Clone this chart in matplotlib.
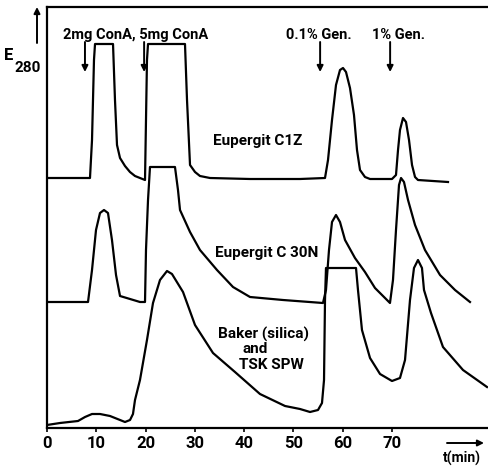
import matplotlib as mpl
mpl.use('agg')
import matplotlib.pyplot as plt

plt.rcParams['font.family'] = ['Roboto', 'DejaVu Sans']

# traces (time in min, E280 in arbitrary units)
c1z_t = [0, 8.72, 9.13, 9.53, 9.74, 13.39, 13.79, 14.20, 14.81, 15.82, 16.83,
         17.85, 18.86, 19.88, 20.08, 20.28, 20.49, 27.99, 28.40, 29.01, 30.02,
         31.03, 33.06, 41.18, 51.32, 56.39, 57.00, 57.81, 58.62, 59.43, 60.04,
         60.65, 61.46, 62.27, 62.88, 63.49, 64.50, 65.52, 69.98, 70.79, 71.20,
         71.60, 72.21, 72.82, 73.43, 74.04, 74.65, 75.25, 81.34]
c1z_e = [250, 250, 288, 368, 384, 384, 328, 283, 270, 262, 256,
         252, 250, 248, 308, 368, 384, 384, 328, 263, 256,
         252, 250, 249, 249, 250, 268, 308, 343, 358, 360,
         356, 340, 313, 278, 258, 251, 249, 249, 253, 278,
         298, 310, 306, 288, 263, 251, 248, 246]

c30n_t = [0, 8.32, 9.13, 9.94, 10.75, 11.56, 12.37, 13.18, 14.00, 14.81, 16.84,
          18.86, 19.88, 20.08, 20.49, 20.89, 25.96, 26.57, 26.98, 29.01, 31.03,
          34.48, 37.73, 41.18, 47.87, 55.98, 56.59, 57.20, 57.81, 58.62, 59.43,
          60.45, 62.47, 64.50, 66.53, 68.56, 69.57, 70.18, 70.79, 71.40, 71.81,
          72.41, 73.23, 74.65, 76.67, 79.72, 82.76, 85.80]
c30n_e = [126, 126, 158, 198, 215, 218, 215, 188, 153, 132, 129,
          126, 126, 178, 228, 261, 261, 238, 218, 196, 178,
          158, 141, 131, 128, 125, 138, 178, 206, 213, 206,
          188, 170, 156, 140, 130, 125, 148, 198, 243, 250,
          246, 228, 203, 178, 153, 138, 126]

baker_t = [0, 2.64, 6.29, 7.71, 9.13, 10.75, 12.78, 14.81, 15.82, 16.84, 17.44,
           17.85, 18.86, 20.28, 21.50, 22.92, 24.34, 25.35, 27.59, 30.02, 33.67,
           38.13, 43.20, 48.28, 51.32, 53.35, 54.97, 55.78, 56.19, 56.39, 56.59,
           62.68, 63.08, 63.89, 65.52, 67.55, 69.98, 71.60, 72.62, 73.63, 74.44,
           75.25, 76.06, 76.47, 77.89, 80.32, 84.38, 89.25]
baker_e = [3, 5, 7, 11, 14, 14, 12, 8, 6, 8, 14,
           28, 48, 88, 125, 148, 157, 154, 136, 103, 75,
           56, 34, 22, 19, 16, 18, 25, 48, 128, 160,
           160, 138, 98, 70, 54, 47, 50, 68, 128, 160,
           168, 160, 138, 115, 81, 58, 41]

# injections
inject_t = [7.7, 19.7, 55.4, 69.6]
inject_labels = ['2mg ConA, 5mg ConA', '0.1% Gen.', '1% Gen.']
label_x = [3.2, 48.5, 66.0]

trace_names = ['Eupergit C1Z', 'Eupergit C 30N']
trace_name_pos = [(33.6, 287), (34.0, 175)]
baker_lines = ['Baker (silica)', 'and', 'TSK SPW']
baker_pos = [(43.9, 94), (42.3, 79), (45.5, 63)]

xticks = [0, 10, 20, 30, 40, 50, 60, 70]

W, H = 489, 468
fig = plt.figure(figsize=(W / 100, H / 100), dpi=100)
ax = fig.add_axes([47 / W, 40 / H, 442 / W, 421 / H])

lw = 1.6
for t, e in [(c1z_t, c1z_e), (c30n_t, c30n_e), (baker_t, baker_e)]:
    ax.plot(t, e, color='black', lw=lw, solid_joinstyle='round')

ax.set_xlim(0, 442 / 4.93)
ax.set_ylim(0, 421)
ax.spines['right'].set_visible(False)
for s in ['left', 'bottom', 'top']:
    ax.spines[s].set_linewidth(1.6)
ax.set_yticks([])
ax.set_xticks(xticks)
ax.set_xticklabels([str(v) for v in xticks], fontweight='bold', fontsize=12)
ax.tick_params(axis='x', length=3, width=1.2, pad=3)

txt = dict(fontsize=11, fontweight='bold', color='black')
for name, (x, y) in zip(trace_names, trace_name_pos):
    ax.text(x, y, name, ha='left', va='center', **txt)
for name, (x, y) in zip(baker_lines, baker_pos):
    ax.text(x, y, name, ha='center', va='center', **txt)

for x, lab in zip(label_x, inject_labels):
    ax.text(x, 393, lab, ha='left', va='center', fontsize=10.5,
            fontweight='bold')
for t in inject_t:
    ax.annotate('', xy=(t, 356), xytext=(t, 386),
                arrowprops=dict(arrowstyle='-|>', color='black', lw=1.4,
                                mutation_scale=9, shrinkA=0, shrinkB=0))

# E280 label with upward arrow
fig.text(4 / W, 1 - 56 / H, 'E', fontsize=12, fontweight='bold', va='center')
fig.text(15 / W, 1 - 68 / H, '280', fontsize=11, fontweight='bold',
         va='center')
ax.annotate('', xy=(37 / W, 1 - 7 / H), xytext=(37 / W, 1 - 43 / H),
            xycoords='figure fraction', annotation_clip=False,
            arrowprops=dict(arrowstyle='-|>', color='black', lw=1.4,
                            mutation_scale=9, shrinkA=0, shrinkB=0))

# time axis label with arrow
ax.annotate('', xy=(484 / W, 1 - 443 / H), xytext=(447 / W, 1 - 443 / H),
            xycoords='figure fraction', annotation_clip=False,
            arrowprops=dict(arrowstyle='-|>', color='black', lw=1.4,
                            mutation_scale=9, shrinkA=0, shrinkB=0))
fig.text(462 / W, 1 - 458 / H, 't(min)', fontsize=10, fontweight='bold',
         ha='center', va='center')

fig.savefig('out.png', dpi=100)
